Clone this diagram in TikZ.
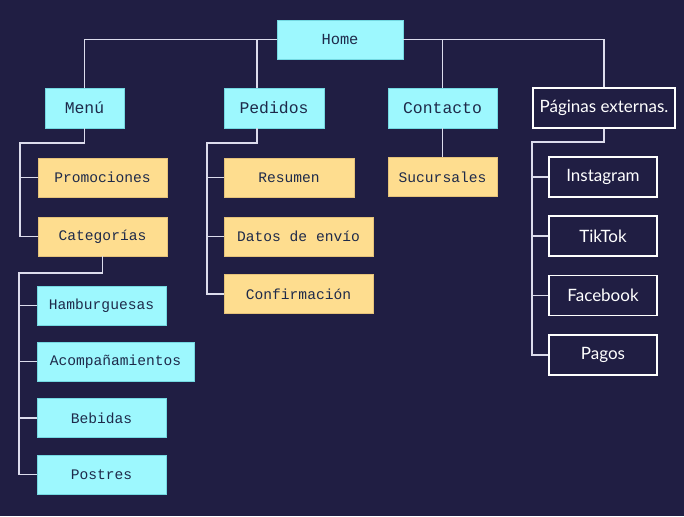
\documentclass[tikz,border=0pt]{standalone}
\usepackage{fontspec}
\newfontfamily\monofont{Liberation Mono}
\newfontfamily\latofont{Lato}
\usetikzlibrary{positioning,calc}

\definecolor{navy}{HTML}{201E43}
\definecolor{cyanbox}{HTML}{9DF8FE}
\definecolor{cyanedge}{HTML}{74D9E2}
\definecolor{sandbox}{HTML}{FEDD8F}
\definecolor{sandedge}{HTML}{E5C27A}
\definecolor{inkdark}{HTML}{1E2A4A}
\definecolor{wire}{HTML}{DCDCEC}

\begin{document}
\begin{tikzpicture}[
  x=1pt, y=-1pt,
  card/.style={draw, line width=0.6pt, inner sep=0pt, minimum height=39pt, text=inkdark,
               font=\monofont\fontsize{14.6}{16}\selectfont},
  page/.style={card, fill=cyanbox, draw=cyanedge},
  sect/.style={page, minimum height=40pt, font=\monofont\fontsize{16.4}{18}\selectfont},
  leaf/.style={card, fill=sandbox, draw=sandedge},
  ext/.style={draw=white, line width=1.3pt, fill=navy, text=white, inner sep=0pt,
              minimum height=40pt, font=\latofont\fontsize{17}{20}\selectfont},
  link/.style={draw=wire, line width=1.9pt},
]
\fill[navy] (0,0) rectangle (684,516);
\useasboundingbox (0,0) rectangle (684,516);

% ---- root and sections ----
\node[page, minimum width=126pt, font=\monofont\fontsize{15.4}{18}\selectfont] (home) at (340,39.5) {Home};
\node[sect, minimum width=79pt]  (menu)     at (84.5,108)  {Menú};
\node[sect, minimum width=100pt] (pedidos)  at (274,108)   {Pedidos};
\node[sect, minimum width=109pt] (contacto) at (442.5,108) {Contacto};
\node[ext,  minimum width=142pt] (paginas)  at (604,108)   {Páginas externas.};

% ---- menu branch ----
\node[leaf, minimum width=129pt] (promos) at (102.5,177.5) {Promociones};
\node[leaf, minimum width=129pt] (categ)  at (102.5,236.5) {Categorías};
\node[page, minimum width=129pt] (hambur) at (101.5,305.5) {Hamburguesas};
\node[page, minimum width=157pt] (acomp)  at (115.5,361.5) {Acompañamientos};
\node[page, minimum width=129pt] (bebidas) at (101.5,418)  {Bebidas};
\node[page, minimum width=129pt] (postres) at (101.5,474.5) {Postres};

% ---- pedidos branch ----
\node[leaf, minimum width=130pt] (resumen) at (289,177.5)   {Resumen};
\node[leaf, minimum width=149pt] (datos)   at (298.5,236.5) {Datos de envío};
\node[leaf, minimum width=149pt] (confirm) at (298.5,294)   {Confirmación};

% ---- contacto branch ----
\node[leaf, minimum width=109pt] (sucurs) at (442.5,177) {Sucursales};

% ---- external pages ----
\node[ext, minimum width=108pt] (insta)  at (603,177)   {Instagram};
\node[ext, minimum width=108pt] (tiktok) at (603,236)   {TikTok};
\node[ext, minimum width=108pt] (fbook)  at (603,295.5) {Facebook};
\node[ext, minimum width=108pt] (pagos)  at (603,355)   {Pagos};

% ---- trunks ----
\coordinate (ptop) at ($(pedidos.north west)!0.33!(pedidos.north east)$);
\coordinate (pbot) at ($(pedidos.south west)!0.33!(pedidos.south east)$);
\coordinate (mtrunk) at (20,143);
\coordinate (ctrunk) at (19,273);
\coordinate (ptrunk) at (207,143);
\coordinate (etrunk) at (532,142);

% ---- connectors ----
\draw[link] (home.west) -| (menu.north);
\draw[link] (ptop) -- (ptop |- home.west);
\draw[link] (home.east) -| (paginas.north);
\draw[link] (contacto.north) -- (contacto.north |- home.east);

\draw[link] (menu.south) |- (mtrunk) |- (categ.west);
\draw[link] (mtrunk |- promos.west) -- (promos.west);

\draw[link] (categ.south) |- (ctrunk) |- (postres.west);
\draw[link] (ctrunk |- hambur.west) -- (hambur.west);
\draw[link] (ctrunk |- acomp.west) -- (acomp.west);
\draw[link] (ctrunk |- bebidas.west) -- (bebidas.west);

\draw[link] (pbot) |- (ptrunk) |- (confirm.west);
\draw[link] (ptrunk |- resumen.west) -- (resumen.west);
\draw[link] (ptrunk |- datos.west) -- (datos.west);

\draw[link] (contacto) -- (sucurs);

\draw[link] (paginas.south) |- (etrunk) |- (pagos.west);
\draw[link] (etrunk |- insta.west) -- (insta.west);
\draw[link] (etrunk |- tiktok.west) -- (tiktok.west);
\draw[link] (etrunk |- fbook.west) -- (fbook.west);
\end{tikzpicture}
\end{document}
